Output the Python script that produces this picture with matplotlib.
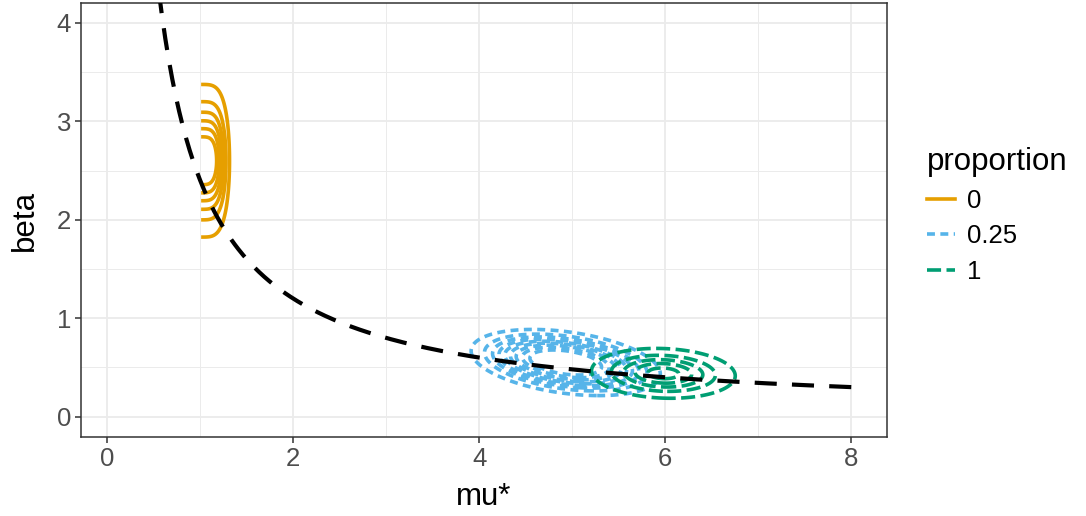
import numpy as np
import matplotlib
matplotlib.use("Agg")
import matplotlib.pyplot as plt
from matplotlib.lines import Line2D

# ---- data ----
curve_k = 2.4                 # beta = k / mu*
curve_mu_range = [0.55, 8.0]

groups = ["0", "0.25", "1"]
colors = ["#E69F00", "#56B4E9", "#009E73"]

# density surface parameters per group: centre (mu*, beta), spreads, correlation, shape
centre_mu = [1.00, 4.93, 5.98]
centre_beta = [2.60, 0.55, 0.44]
sd_mu = [0.25, 0.56, 0.36]
sd_beta = [0.345, 0.185, 0.118]
corr = [0.0, -0.35, -0.1]
shape_power = [4.0, 1.5, 1.0]
grid_mu_min = [1.01, 3.0, 4.5]
grid_mu_max = [1.6, 7.0, 7.5]
# contour levels as fraction of peak density
level_frac = [
    [0.08, 0.22, 0.36, 0.50, 0.64, 0.78],
    [0.05, 0.15, 0.25, 0.35, 0.45, 0.55, 0.65, 0.75, 0.85],
    [0.10, 0.30, 0.50, 0.70, 0.90],
]

x_ticks = [0, 2, 4, 6, 8]
y_ticks = [0, 1, 2, 3, 4]

# ---- styling ----
plt.rcParams['font.family'] = ['Liberation Sans', 'DejaVu Sans']
fig = plt.figure(figsize=(10.86, 5.16), dpi=100)
ax = fig.add_axes([0.0743, 0.1525, 0.8164 - 0.0743, 0.9936 - 0.1525])

lw = 2.6
dash_styles = [None, (0, (2.2, 1.5)), (0, (3.9, 1.5))]

for i in range(3):
    mu = np.linspace(grid_mu_min[i], grid_mu_max[i], 500)
    be = np.linspace(centre_beta[i] - 6 * sd_beta[i], centre_beta[i] + 6 * sd_beta[i], 500)
    M, B = np.meshgrid(mu, be)
    zx = (M - centre_mu[i]) / sd_mu[i]
    zy = (B - centre_beta[i]) / sd_beta[i]
    if i == 0:
        Z = np.exp(-np.abs(zx) ** shape_power[i]) * np.exp(-0.5 * zy ** 2)
    else:
        r = corr[i]
        q = (zx ** 2 - 2 * r * zx * zy + zy ** 2) / (1 - r ** 2)
        Z = np.exp(-0.5 * q ** shape_power[i])
    Z = Z / Z.max()
    cs = ax.contour(M, B, Z, levels=level_frac[i], colors=colors[i], linewidths=lw)
    cs.set_linestyle('solid' if dash_styles[i] is None else dash_styles[i])

# drawn from the right end so the dash pattern starts at mu* = 8
mu_c = np.linspace(curve_mu_range[1], curve_mu_range[0], 400)
ax.plot(mu_c, curve_k / mu_c, color='black', lw=3.0, dashes=(5.3, 3.65), zorder=5)

ax.set_xlim(-0.285, 8.38)
ax.set_ylim(-0.21, 4.2)
ax.set_xticks(x_ticks)
ax.set_yticks(y_ticks)
ax.set_xticks([1, 3, 5, 7], minor=True)
ax.set_yticks([0.5, 1.5, 2.5, 3.5], minor=True)
ax.grid(True, which='major', color='#EBEBEB', lw=1.3)
ax.grid(True, which='minor', color='#EBEBEB', lw=0.7)
ax.set_axisbelow(True)
ax.tick_params(which='minor', length=0)
ax.tick_params(which='major', length=4, width=1.1, color='#333333',
               labelsize=18.5, labelcolor='#4D4D4D', pad=3)
for s in ax.spines.values():
    s.set_color('#333333')
    s.set_linewidth(1.1)

ax.set_xlabel('mu*', fontsize=22.5, labelpad=8)
ax.set_ylabel('beta', fontsize=22.5, labelpad=12)

handles = [
    Line2D([], [], color=colors[0], lw=lw, ls='solid'),
    Line2D([], [], color=colors[1], lw=lw, ls=dash_styles[1]),
    Line2D([], [], color=colors[2], lw=lw, ls=dash_styles[2]),
]
leg = fig.legend(handles, groups, title='proportion', loc='upper left',
                 bbox_to_anchor=(0.844, 0.735), frameon=False,
                 fontsize=18.5, title_fontsize=22.5, handlelength=1.1,
                 handletextpad=0.45, labelspacing=0.45, borderaxespad=0)
leg._legend_box.align = 'left'

fig.savefig('out.png', dpi=100)
